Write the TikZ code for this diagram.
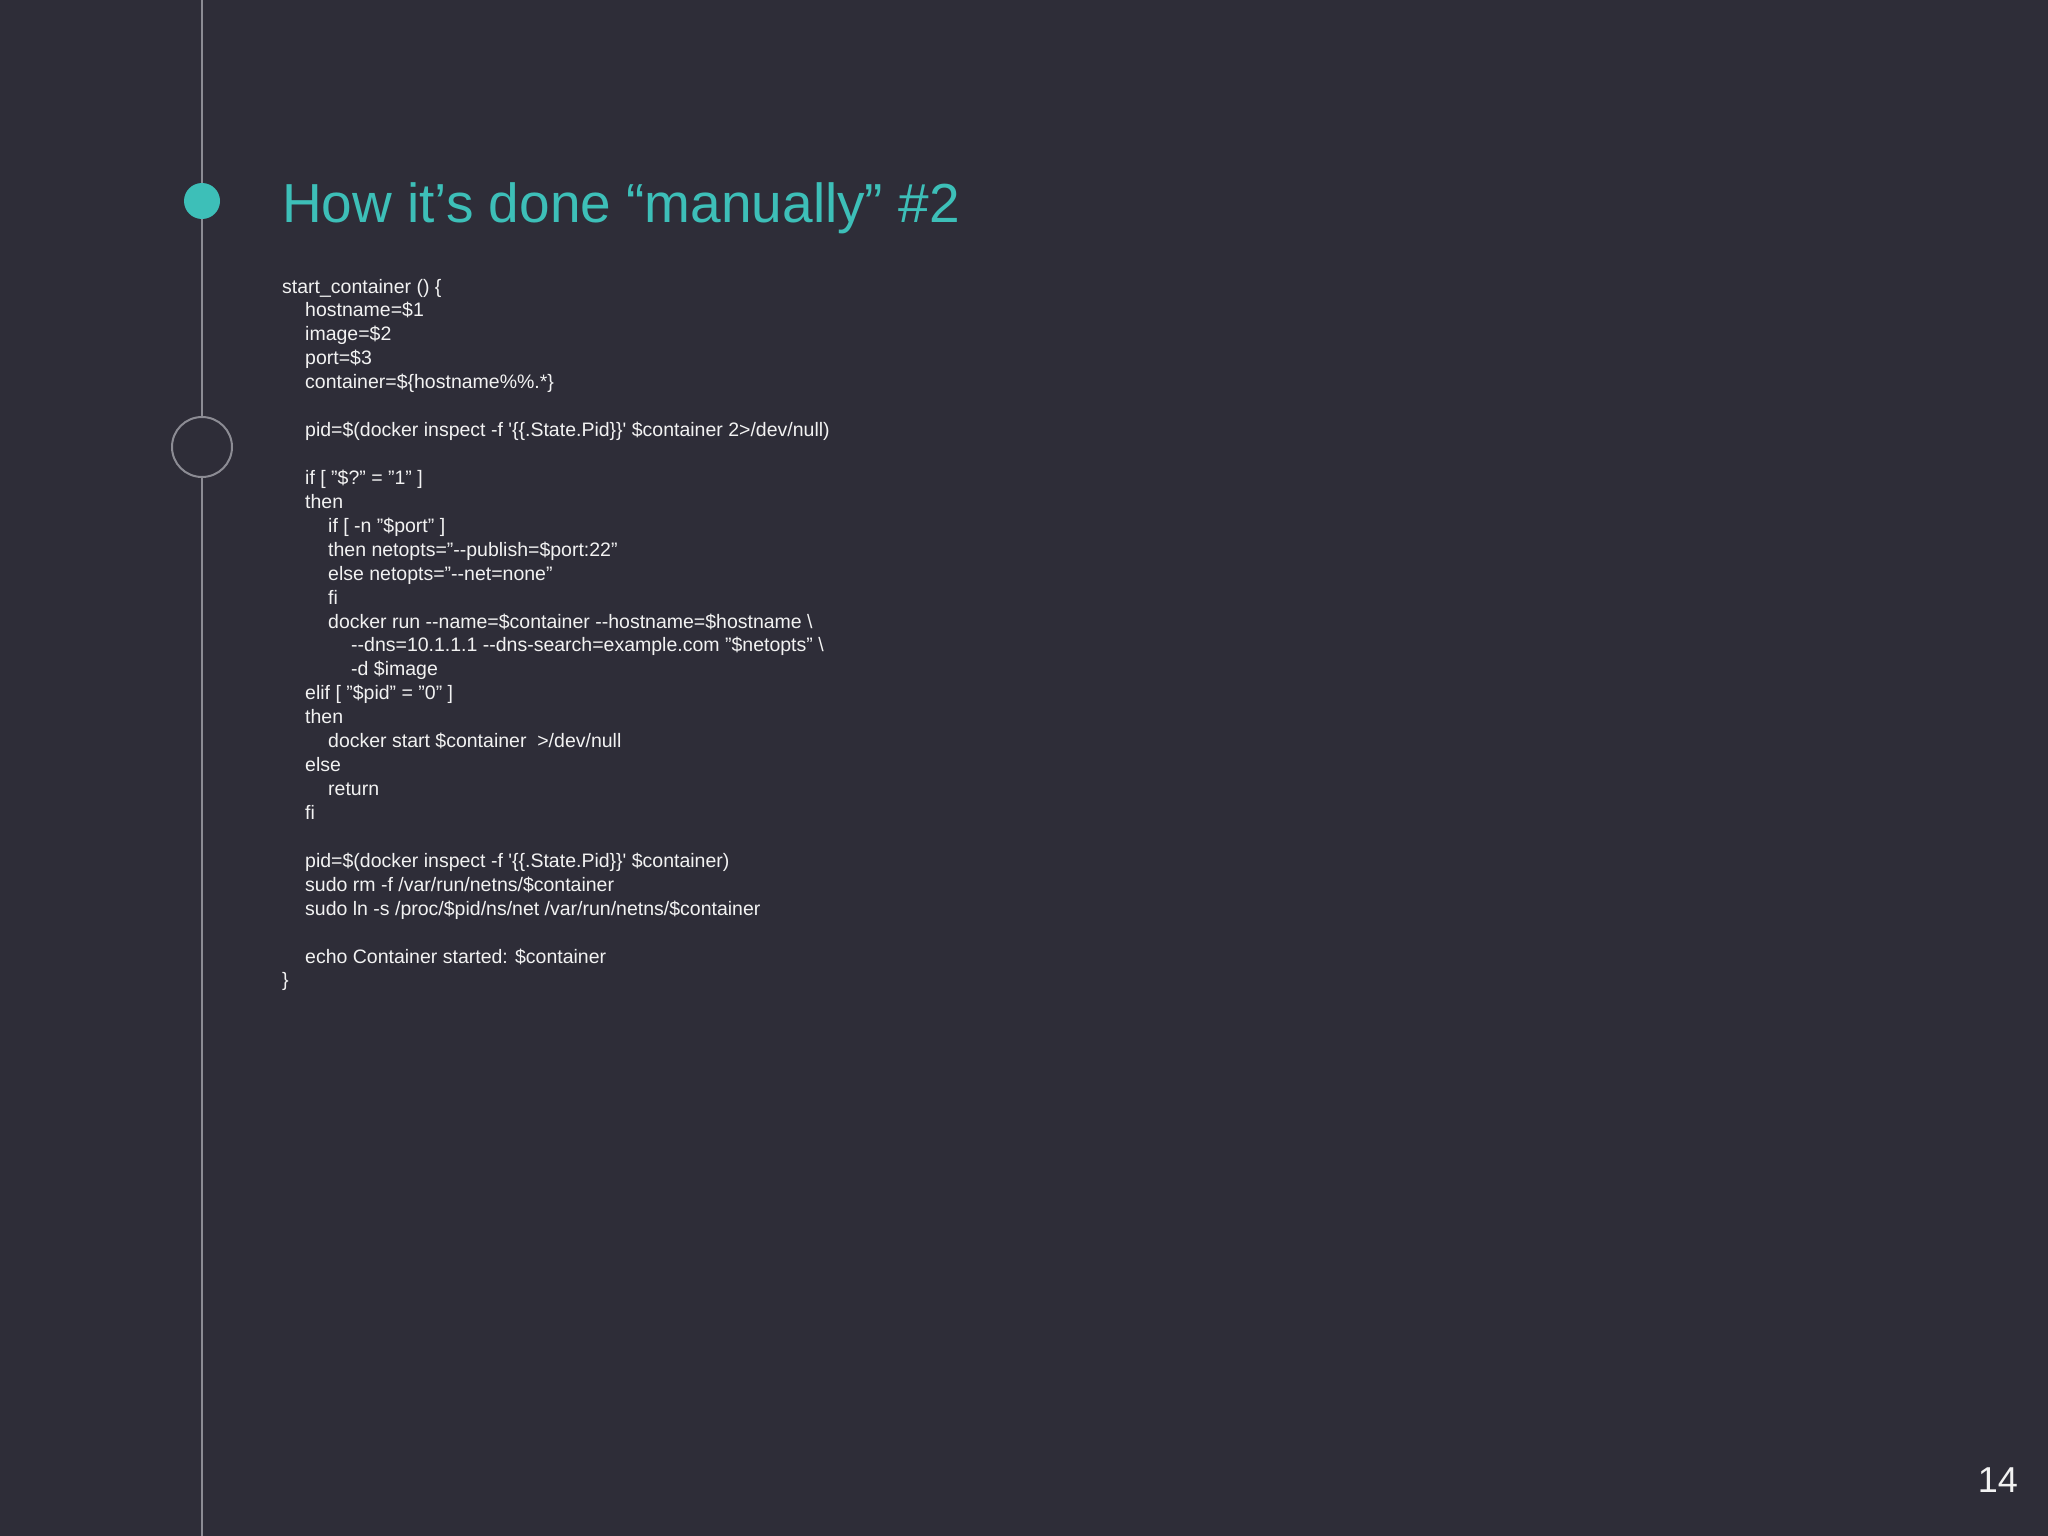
\documentclass[tikz,border=0pt]{standalone}
\usepackage{fontspec}
\setmainfont{Liberation Sans}
\definecolor{bg}{HTML}{2E2D38}
\definecolor{teal}{HTML}{3DBFB8}
\definecolor{rail}{HTML}{8C8C94}
\definecolor{codec}{HTML}{F2F2F2}
\newcommand\q{\textquotesingle}
\newcommand\bs{\textbackslash}
\begin{document}
\begin{tikzpicture}[x=1pt,y=-1pt,
  code/.style={anchor=base west,inner sep=0pt,text=codec,font=\fontsize{19.5}{24}\selectfont},
]
\fill[bg] (0,0) rectangle (2048,1536);
\useasboundingbox (0,0) rectangle (2048,1536);
\draw[rail,line width=2pt] (202,0) -- (202,1536);
\fill[teal] (202,201) circle (18);
\draw[rail,line width=2pt,fill=bg] (202,447) circle (30);
\node[anchor=base west,inner sep=0pt,text=teal,font=\fontsize{55}{60}\selectfont] (title) at (282,222) {How it’s done “manually” \#2};
\newcommand\cl[3]{\node[code] (l#2) at ({282+#1*23},{293+#2*23.93}) {#3};}
\cl{0}{0}{start\_container () \{}
\cl{1}{1}{hostname=\$1}
\cl{1}{2}{image=\$2}
\cl{1}{3}{port=\$3}
\cl{1}{4}{container=\$\{hostname\%\%.*\}}
\cl{1}{6}{pid=\$(docker inspect -f \q\{\{.State.Pid\}\}\q\ \$container 2>/dev/null)}
\cl{1}{8}{if [ "\$?" = "1" ]}
\cl{1}{9}{then}
\cl{2}{10}{if [ -n "\$port" ]}
\cl{2}{11}{then netopts="-{}-publish=\$port:22"}
\cl{2}{12}{else netopts="-{}-net=none"}
\cl{2}{13}{fi}
\cl{2}{14}{docker run -{}-name=\$container -{}-hostname=\$hostname \bs}
\cl{3}{15}{-{}-dns=10.1.1.1 -{}-dns-search=example.com "\$netopts" \bs}
\cl{3}{16}{-d \$image}
\cl{1}{17}{elif [ "\$pid" = "0" ]}
\cl{1}{18}{then}
\cl{2}{19}{docker start \$container \ >/dev/null}
\cl{1}{20}{else}
\cl{2}{21}{return}
\cl{1}{22}{fi}
\cl{1}{24}{pid=\$(docker inspect -f \q\{\{.State.Pid\}\}\q\ \$container)}
\cl{1}{25}{sudo rm -f /var/run/netns/\$container}
\cl{1}{26}{sudo ln -s /proc/\$pid/ns/net /var/run/netns/\$container}
\cl{1}{28}{echo Container started: \$container}
\cl{0}{29}{\}}
\node[anchor=base east,inner sep=0pt,text=codec,font=\fontsize{36}{40}\selectfont] (num) at (2018,1492) {14};
\end{tikzpicture}
\end{document}
